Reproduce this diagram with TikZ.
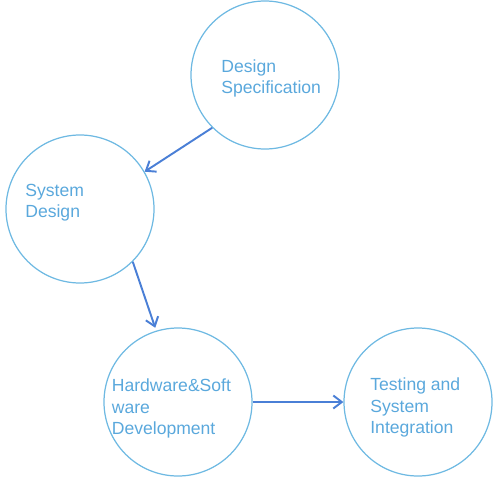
\documentclass[tikz,border=0pt]{standalone}
\usepackage{fontspec}
\setmainfont{Liberation Sans}
\usepackage{xcolor}
\usepackage{tikz}
\usetikzlibrary{arrows.meta,positioning}
\definecolor{ring}{HTML}{6EB9E2}
\definecolor{flowc}{HTML}{4A7FD6}
\definecolor{txtc}{HTML}{5AA8DC}
\tikzset{
  stage/.style={circle,draw=ring,line width=0.7pt,minimum size=29.6mm,inner sep=0pt},
  stagetxt/.style={anchor=west,align=left,inner sep=0pt,text=txtc,
    font=\fontsize{10}{12}\selectfont},
  flow/.style={-{Straight Barb[length=1.7mm,width=2.6mm]},line width=1.1pt,draw=flowc},
}
\begin{document}
\begin{tikzpicture}
  \useasboundingbox (0,0) rectangle (100mm,-97.6mm);
  % the four stages
  \node[stage] (spec) at (53mm,-15mm){};
  \node[stage] (sysdes) at (16mm,-41.8mm){};
  \node[stage] (hwsw) at (35.6mm,-80.4mm){};
  \node[stage] (test) at (83.6mm,-80.4mm){};
  % their labels, left aligned inside the circles
  \node[stagetxt] (spec-t) at (44.2mm,-15.6mm){Design\\Specification};
  \node[stagetxt] (sysdes-t) at (5mm,-40.6mm){System\\Design};
  \node[stagetxt] (hwsw-t) at (22.3mm,-81.7mm){Hardware\&Soft\\ware\\Development};
  \node[stagetxt] (test-t) at (74mm,-81.5mm){Testing and\\System\\Integration};
  % flow between stages
  \draw[flow] (spec.225) -- (sysdes.30);
  \draw[flow,shorten >=0.6mm] (sysdes.-45) -- (hwsw.107);
  \draw[flow] (hwsw.east) -- (test.west);
\end{tikzpicture}
\end{document}
